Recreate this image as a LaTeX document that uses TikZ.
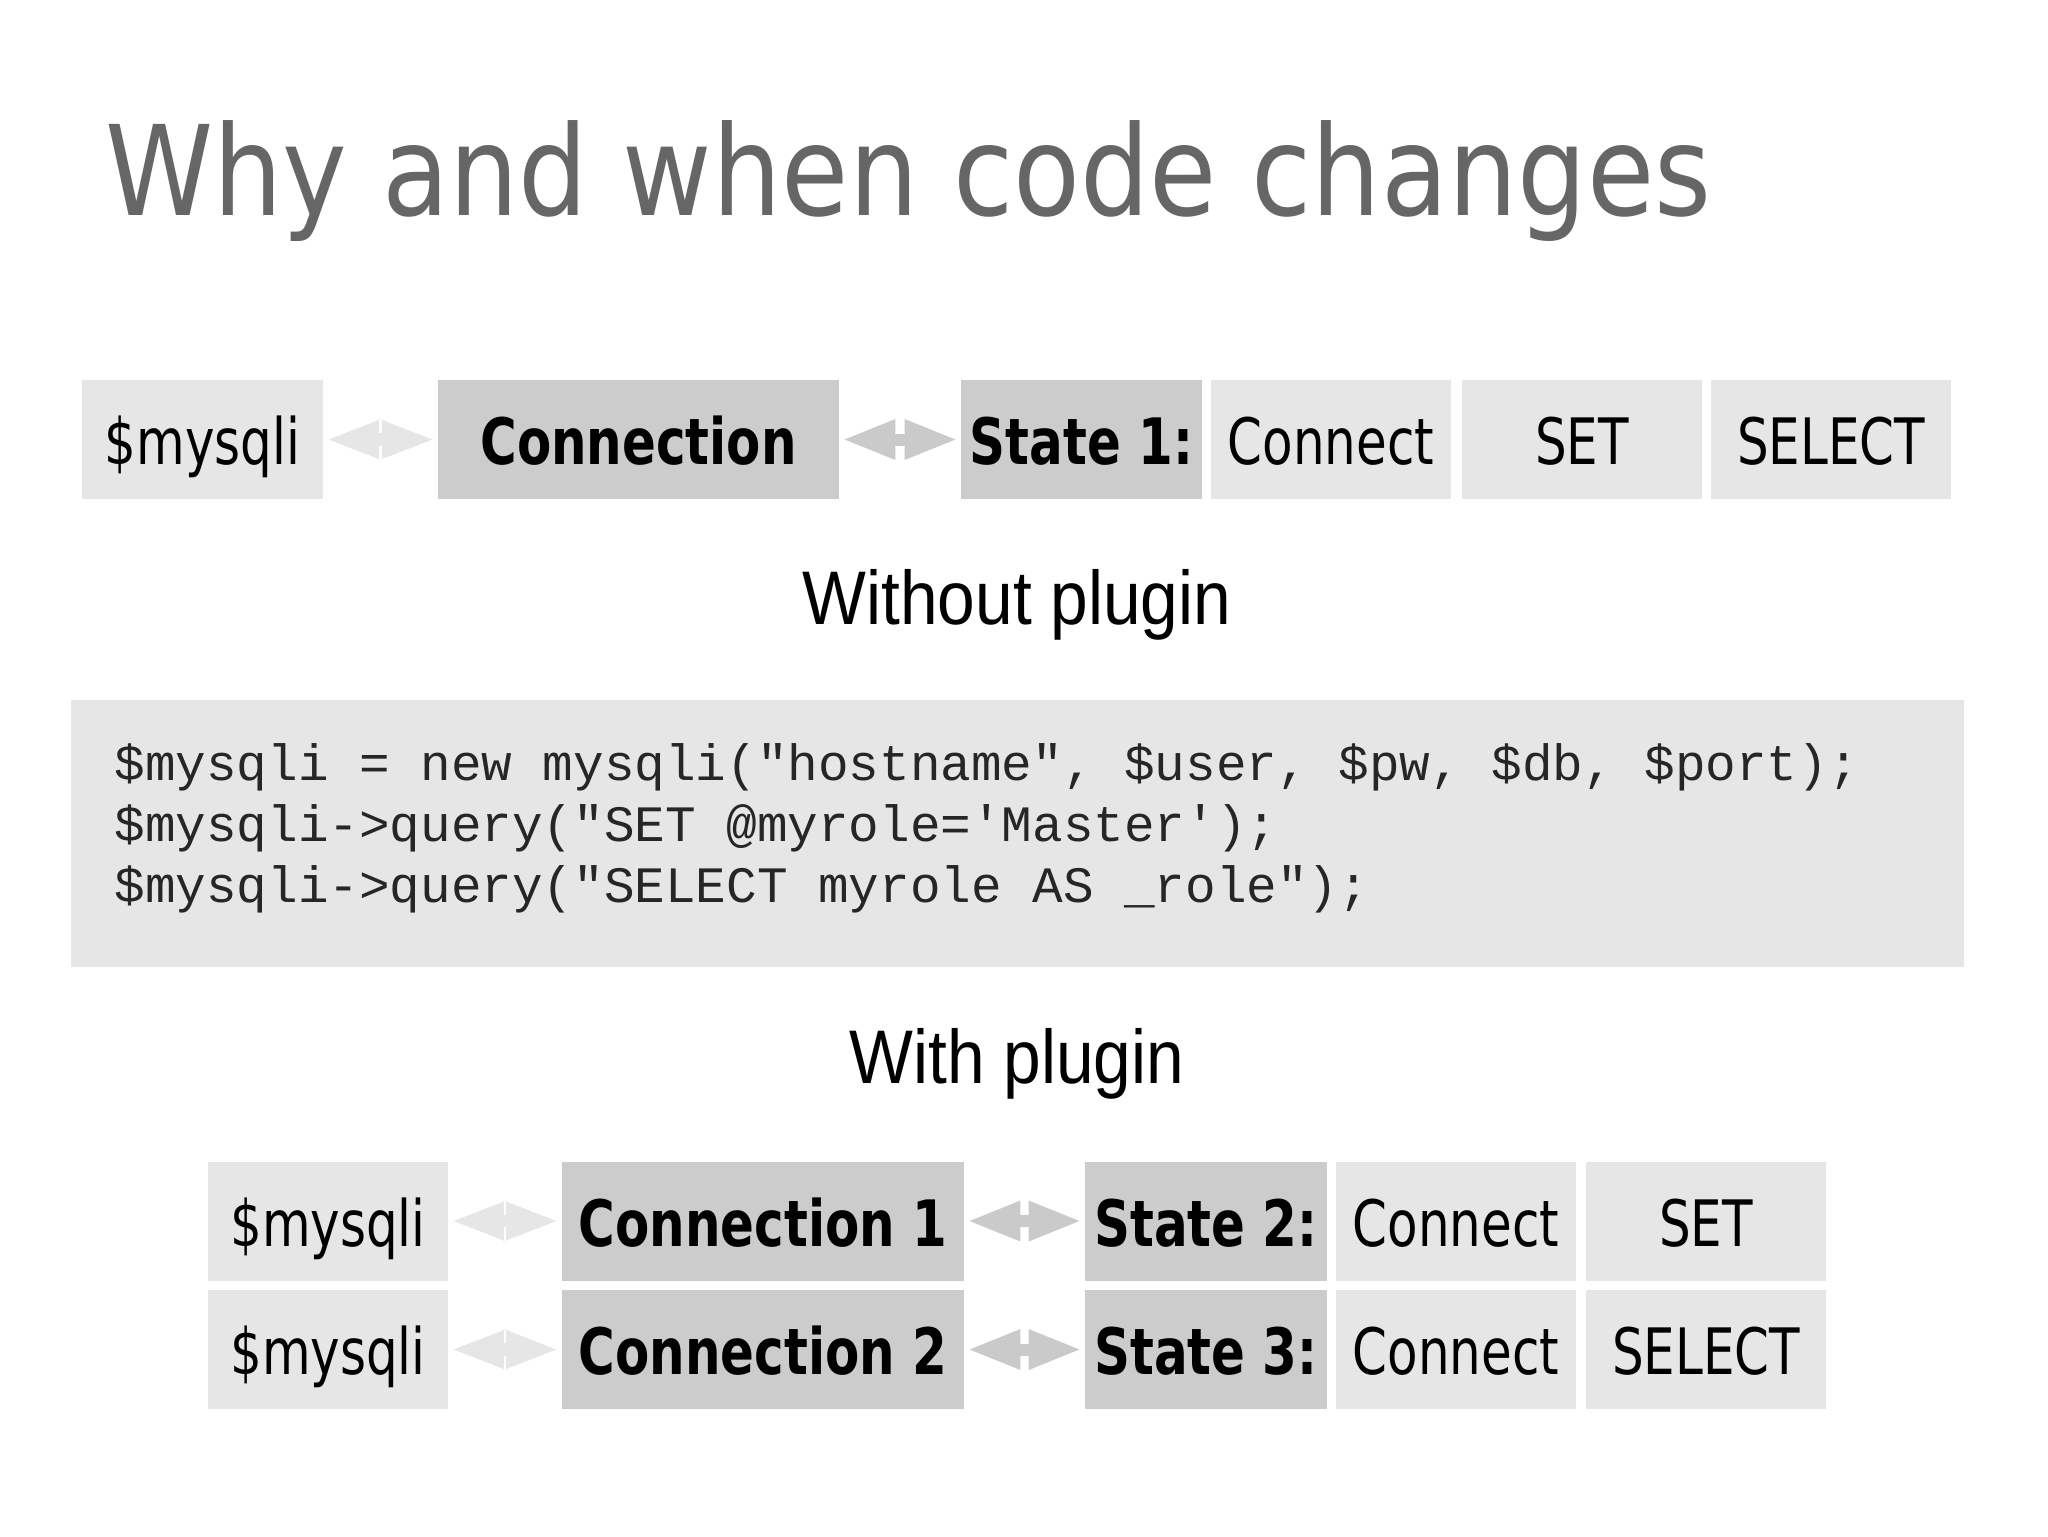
\documentclass[tikz,border=0pt]{standalone}
\usepackage{fontspec}
\usetikzlibrary{arrows.meta,calc}
\newfontfamily\titlefont[FakeStretch=0.875]{DejaVu Sans}
\newfontfamily\boxfont[FakeStretch=0.78]{DejaVu Sans}
\newfontfamily\labelfont[FakeStretch=0.89]{Liberation Sans}
\setmonofont{Liberation Mono}
\definecolor{boxlight}{HTML}{E6E6E6}
\definecolor{boxdark}{HTML}{CCCCCC}
\definecolor{arrlight}{HTML}{E6E6E6}
\definecolor{arrdark}{HTML}{CACACA}
\definecolor{titlegray}{HTML}{666666}
\definecolor{codetext}{HTML}{262626}
\tikzset{
  cell/.style={rectangle, inner sep=0pt, minimum height=59.5pt, text height=30pt, text depth=5pt,
    font=\boxfont\fontsize{32}{38}\selectfont, text=black},
  lcell/.style={cell, fill=boxlight},
  dcell/.style={cell, fill=boxdark, font=\boxfont\bfseries\fontsize{32}{38}\selectfont},
  larr/.style={draw=arrlight, line width=6pt,
    {Triangle[width=18.5pt,length=27.5pt]}-{Triangle[width=18.5pt,length=27.5pt]},
    shorten <=1.5pt, shorten >=1.5pt},
  darr/.style={draw=arrdark, line width=6pt,
    {Triangle[width=18.5pt,length=26.5pt]}-{Triangle[width=18.5pt,length=26.5pt]},
    shorten <=1.5pt, shorten >=1.5pt},
  splitline/.style={draw=white, line width=1.2pt},
  codeline/.style={anchor=base west, inner sep=0pt, text=codetext,
    font=\ttfamily\fontsize{25.5}{30}\selectfont},
  caption/.style={anchor=base, inner sep=0pt, font=\labelfont\fontsize{38}{44}\selectfont, text=black}
}
\begin{document}
\begin{tikzpicture}[x=0.5pt,y=-0.5pt]
\useasboundingbox (0,0) rectangle (2048,1536);
\fill[white] (0,0) rectangle (2048,1536);

% title
\node[anchor=base west, inner sep=0pt, text=titlegray,
  font=\titlefont\fontsize{62.5}{70}\selectfont] (title) at (105,215) {Why and when code changes};

% top row
\node[lcell, minimum width=120.5pt] (m1) at (202.5,439.5) {\$mysqli};
\node[dcell, minimum width=200.5pt] (c1) at (638.5,439.5) {Connection};
\node[dcell, minimum width=120.5pt] (s1) at (1081.5,439.5) {State 1:};
\node[lcell, minimum width=120pt] (k1) at (1331,439.5) {Connect};
\node[lcell, minimum width=120pt] (set1) at (1582,439.5) {SET};
\node[lcell, minimum width=120pt] (sel1) at (1831,439.5) {SELECT};
\draw[larr] (m1.east) -- (c1.west);
\coordinate (j1) at ($(m1.east)!0.5!(c1.west)$);
\draw[splitline] ([yshift=10pt]j1) -- ([yshift=3.2pt]j1);
\draw[splitline] ([yshift=-10pt]j1) -- ([yshift=-3.2pt]j1);
\draw[darr] (c1.east) -- (s1.west);

% caption 1
\node[caption] (without) at (1017,624) {Without plugin};

% code box
\node[rectangle, fill=boxlight, inner sep=0pt, minimum width=946.5pt, minimum height=133.5pt] (code) at (1017.5,833.5) {};
\node[codeline] (code1) at (114,780) {\$mysqli = new mysqli("hostname", \$user, \$pw, \$db, \$port);};
\node[codeline] (code2) at (114,841) {\$mysqli->query("SET @myrole='Master');};
\node[codeline] (code3) at (114,902) {\$mysqli->query("SELECT myrole AS \_role");};

% caption 2
\node[caption] (with) at (1017,1083) {With plugin};

% bottom rows
\node[lcell, minimum width=120pt] (mA) at (328,1221) {\$mysqli};
\node[dcell, minimum width=201pt] (cA) at (763,1221) {Connection 1};
\node[dcell, minimum width=121pt] (sA) at (1206,1221) {State 2:};
\node[lcell, minimum width=120pt] (kA) at (1456,1221) {Connect};
\node[lcell, minimum width=120pt] (setA) at (1706,1221) {SET};

\node[lcell, minimum width=120pt] (mB) at (328,1349.5) {\$mysqli};
\node[dcell, minimum width=201pt] (cB) at (763,1349.5) {Connection 2};
\node[dcell, minimum width=121pt] (sB) at (1206,1349.5) {State 3:};
\node[lcell, minimum width=120pt] (kB) at (1456,1349.5) {Connect};
\node[lcell, minimum width=120pt] (selB) at (1706,1349.5) {SELECT};

\draw[larr] (mA.east) -- (cA.west);
\coordinate (jA) at ($(mA.east)!0.5!(cA.west)$);
\draw[splitline] ([yshift=10pt]jA) -- ([yshift=3.2pt]jA);
\draw[splitline] ([yshift=-10pt]jA) -- ([yshift=-3.2pt]jA);
\draw[darr] (cA.east) -- (sA.west);

\draw[larr] (mB.east) -- (cB.west);
\coordinate (jB) at ($(mB.east)!0.5!(cB.west)$);
\draw[splitline] ([yshift=10pt]jB) -- ([yshift=3.2pt]jB);
\draw[splitline] ([yshift=-10pt]jB) -- ([yshift=-3.2pt]jB);
\draw[darr] (cB.east) -- (sB.west);
\end{tikzpicture}
\end{document}
